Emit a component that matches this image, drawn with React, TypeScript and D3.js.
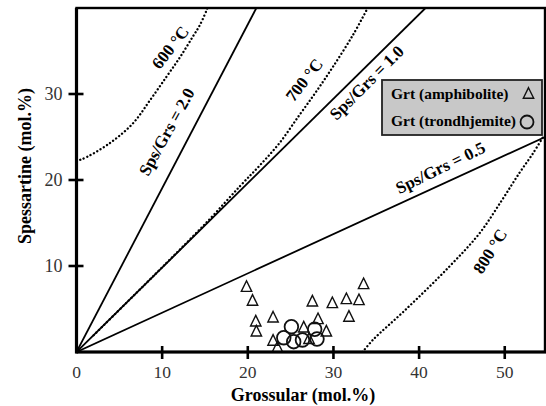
import React from "react";
import * as d3 from "d3";

// Grossular / spessartine (mol.%)
const amphiboliteGrs = [19.85, 20.55, 20.93, 21.0, 22.95, 22.95, 23.46, 27.54, 29.87, 31.51, 32.98, 33.52, 31.81, 28.2, 26.53, 29.17, 27.15];
const amphiboliteSps = [7.67, 6.05, 3.64, 2.48, 4.1, 1.4, 0.62, 5.97, 5.78, 6.24, 6.13, 7.99, 4.19, 3.92, 2.94, 2.48, 1.6];
const trondhjemiteGrs = [25.09, 24.2, 25.36, 26.38, 27.81, 28.08];
const trondhjemiteSps = [2.94, 1.66, 1.2, 1.4, 2.64, 1.51];

// Sps/Grs reference lines (from the origin to the frame)
const ratioLabels = ["Sps/Grs = 2.0", "Sps/Grs = 1.0", "Sps/Grs = 0.5"];
const ratioEndGrs = [21.0, 40.75, 54.7];
const ratioEndSps = [40, 40, 25.0];

// isotherms
const isoLabels = ["600 °C", "700 °C", "800 °C"];
const iso600Grs = [0, 0.6, 3.9, 6.6, 8.6, 10.5, 12.1, 13.6, 14.4, 15.3];
const iso600Sps = [22.3, 22.4, 24.3, 26.6, 29.3, 32.0, 34.3, 36.7, 38.0, 40];
const iso700Grs = [2.0, 10.4, 15.5, 19.1, 21.4, 23.7, 26.06, 28.0, 29.9, 32.3, 34.0];
const iso700Sps = [1.95, 10.25, 15.4, 19.3, 21.7, 24.3, 27.6, 30.3, 33.1, 36.9, 40];
const iso800Grs = [33.4, 34.6, 38.4, 43.5, 47.05, 49.7, 51.7, 53.3, 54.6];
const iso800Sps = [0, 1.4, 4.9, 9.9, 13.8, 17.7, 20.8, 23.1, 25.2];

const xTicks = [0, 10, 20, 30, 40, 50];
const yTicks = [10, 20, 30];

const W = 546;
const H = 406;
const margin = { left: 76.5, top: 8, right: 1, bottom: 54 };

const App = () => {
  const x = d3.scaleLinear().domain([0, 54.7]).range([margin.left, W - margin.right]);
  const y = d3.scaleLinear().domain([0, 40]).range([H - margin.bottom, margin.top]);

  const line = d3
    .line<[number, number]>()
    .x((d) => x(d[0]))
    .y((d) => y(d[1]))
    .curve(d3.curveCatmullRom);

  const isotherms = [
    iso600Grs.map((g, i) => [g, iso600Sps[i]] as [number, number]),
    iso700Grs.map((g, i) => [g, iso700Sps[i]] as [number, number]),
    iso800Grs.map((g, i) => [g, iso800Sps[i]] as [number, number]),
  ];

  // label anchors in data units, with rotation
  const ratioLabelPos = [
    { gx: 10.55, sy: 25.6, rot: -61 },
    { gx: 33.9, sy: 31.3, rot: -45 },
    { gx: 42.5, sy: 21.4, rot: -26 },
  ];
  const isoLabelPos = [
    { gx: 10.98, sy: 35.4, rot: -52 },
    { gx: 26.6, sy: 31.6, rot: -52 },
    { gx: 48.3, sy: 11.7, rot: -58 },
  ];

  const tri = (cx: number, cy: number, h = 5.3, w = 5.2) =>
    `M${cx},${cy - h}L${cx + w},${cy + h}L${cx - w},${cy + h}Z`;

  const x0 = x(0);
  const y0 = y(0);
  const font = "'Liberation Serif', 'Times New Roman', serif";

  return (
    <svg
      width={W}
      height={H}
      style={{ position: "absolute", left: 0, top: 0, background: "#fff" }}
      fontFamily={font}
    >
      <defs>
        <clipPath id="plot-clip">
          <rect x={x0} y={margin.top} width={x(54.7) - x0} height={y0 - margin.top} />
        </clipPath>
      </defs>

      {/* frame */}
      <rect
        x={x0}
        y={margin.top}
        width={x(54.7) - x0}
        height={y0 - margin.top}
        fill="none"
        stroke="#000"
        strokeWidth={2.4}
      />

      <g clipPath="url(#plot-clip)">
        {ratioEndGrs.map((g, i) => (
          <line
            key={"r" + i}
            x1={x(0)}
            y1={y(0)}
            x2={x(g)}
            y2={y(ratioEndSps[i])}
            stroke="#000"
            strokeWidth={1.8}
          />
        ))}
        {isotherms.map((pts, i) => (
          <path
            key={"iso" + i}
            d={line(pts) || ""}
            fill="none"
            stroke="#000"
            strokeWidth={2.3}
            strokeDasharray="0.1,3.7"
            strokeLinecap="round"
          />
        ))}
      </g>

      {ratioLabels.map((t, i) => {
        const p = ratioLabelPos[i];
        return (
          <text
            key={"rl" + i}
            transform={`translate(${x(p.gx)},${y(p.sy)}) rotate(${p.rot})`}
            textAnchor="middle"
            dominantBaseline="central"
            fontWeight="bold"
            fontSize={17}
          >
            {t}
          </text>
        );
      })}
      {isoLabels.map((t, i) => {
        const p = isoLabelPos[i];
        return (
          <text
            key={"il" + i}
            transform={`translate(${x(p.gx)},${y(p.sy)}) rotate(${p.rot})`}
            textAnchor="middle"
            dominantBaseline="central"
            fontWeight="bold"
            fontSize={17}
          >
            {t}
          </text>
        );
      })}

      {/* samples */}
      {amphiboliteGrs.map((g, i) => (
        <path
          key={"a" + i}
          d={tri(x(g), y(amphiboliteSps[i]))}
          fill="none"
          stroke="#111"
          strokeWidth={1.4}
        />
      ))}
      {trondhjemiteGrs.map((g, i) => (
        <circle
          key={"t" + i}
          cx={x(g)}
          cy={y(trondhjemiteSps[i])}
          r={6.8}
          fill="none"
          stroke="#111"
          strokeWidth={1.8}
        />
      ))}

      {/* axes */}
      <line x1={x0} y1={y0} x2={W} y2={y0} stroke="#000" strokeWidth={3.2} />
      <line x1={x0} y1={y0 + 1.5} x2={x0} y2={margin.top} stroke="#000" strokeWidth={3.2} />
      {xTicks.map((t) => (
        <g key={"xt" + t}>
          {t > 0 && <line x1={x(t)} x2={x(t)} y1={y0 - 6} y2={y0 + 7} stroke="#000" strokeWidth={2.6} />}
          <text x={x(t)} y={y0 + 26} textAnchor="middle" fontSize={17.5} fill="#333">
            {t}
          </text>
        </g>
      ))}
      {yTicks.map((t) => (
        <g key={"yt" + t}>
          <line x1={x0 - 8} x2={x0 + 7} y1={y(t)} y2={y(t)} stroke="#000" strokeWidth={2.6} />
          <text x={x0 - 14} y={y(t)} textAnchor="end" dominantBaseline="central" fontSize={18} fill="#333">
            {t}
          </text>
        </g>
      ))}

      <text x={303} y={401} textAnchor="middle" fontWeight="bold" fontSize={18}>
        Grossular (mol.%)
      </text>
      <text
        transform={`translate(31,${(y0 + margin.top) / 2 - 14}) rotate(-90)`}
        textAnchor="middle"
        fontWeight="bold"
        fontSize={18}
      >
        Spessartine (mol.%)
      </text>

      {/* legend */}
      <g>
        <rect x={382} y={80} width={160} height={55} fill="#c8c8c8" stroke="#222" strokeWidth={1.8} />
        <text x={391} y={98.5} fontWeight="bold" fontSize={15.5}>
          Grt (amphibolite)
        </text>
        <path d={tri(528.5, 93)} fill="none" stroke="#111" strokeWidth={1.4} />
        <text x={391} y={126} fontWeight="bold" fontSize={15.5}>
          Grt (trondhjemite)
        </text>
        <circle cx={527} cy={122} r={6.5} fill="none" stroke="#111" strokeWidth={1.8} />
      </g>
    </svg>
  );
};

export default App;
